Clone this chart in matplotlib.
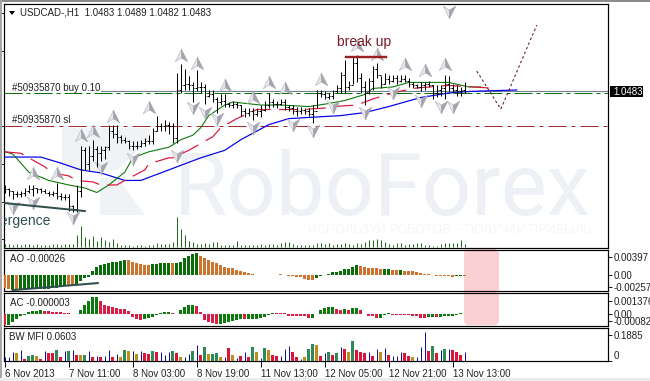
#!/usr/bin/env python3
"""USDCAD H1 terminal screenshot redrawn with matplotlib."""
import matplotlib

matplotlib.use("Agg")
import matplotlib.pyplot as plt
import numpy as np
from matplotlib.patches import FancyBboxPatch, Polygon, Rectangle
from matplotlib.path import Path

W, H = 650, 381
L, R = 4, 608
PX = 0.72  # one pixel in points at dpi 100

plt.rcParams["font.family"] = ["Liberation Sans", "DejaVu Sans"]

# prices are kept as pips above 1.0400
high_pips = [21, 19, 17, 17, 17, 19, 21, 21, 19, 19,
             18, 17, 17, 22, 16, 15, 15, 8, 21, 47,
             46, 47, 51, 47, 47, 47, 61, 61, 61, 54,
             53, 51, 50, 50, 51, 52, 54, 59, 67, 62,
             64, 63, 62, 95, 101, 98, 93, 89, 97, 89,
             88, 84, 84, 79, 81, 81, 76, 77, 76, 74,
             72, 72, 72, 72, 74, 77, 82, 78, 77, 78,
             78, 74, 74, 73, 73, 72, 72, 74, 84, 84,
             83, 82, 84, 87, 96, 104, 90, 106, 107, 95,
             90, 92, 100, 102, 93, 95, 94, 94, 94, 94,
             94, 92, 89, 88, 89, 89, 90, 87, 87, 87,
             94, 93, 88, 87, 86, 89]
low_pips = [16, 14, 12, 13, 13, 14, 16, 14, 16, 16,
            16, 14, 14, 12, 11, 11, 4, 3, 3, 13,
            31, 31, 37, 33, 37, 38, 44, 52, 49, 49,
            49, 45, 44, 45, 46, 47, 48, 48, 57, 57,
            57, 55, 49, 49, 82, 84, 84, 76, 83, 82,
            75, 79, 76, 69, 74, 73, 73, 72, 72, 67,
            66, 67, 64, 67, 66, 70, 72, 73, 72, 74,
            71, 70, 68, 67, 68, 68, 67, 62, 72, 79,
            78, 78, 78, 82, 82, 82, 84, 88, 89, 82,
            74, 81, 84, 92, 85, 88, 88, 89, 88, 89,
            89, 86, 85, 85, 83, 84, 86, 78, 79, 80,
            78, 83, 82, 80, 80, 82]
close_pips = [18, 17, 15, 15, 16, 17, 18, 19, 18, 17,
              16, 15, 16, 14, 13, 13, 7, 5, 17, 44,
              35, 40, 45, 42, 44, 46, 57, 55, 53, 51,
              50, 47, 47, 47, 49, 50, 50, 57, 60, 60,
              61, 60, 52, 84, 87, 88, 87, 85, 86, 86,
              80, 81, 78, 76, 77, 75, 74, 75, 74, 70,
              69, 70, 68, 70, 71, 74, 76, 75, 75, 76,
              73, 72, 70, 70, 71, 70, 68, 70, 82, 81,
              79, 80, 83, 85, 94, 86, 87, 102, 92, 86,
              82, 90, 98, 94, 88, 91, 90, 92, 90, 91,
              90, 88, 87, 86, 87, 88, 87, 82, 84, 85,
              88, 85, 84, 83, 84, 83]
volumes = [3, 3, 2, 3, 2, 3, 3, 2, 3, 2,
           2, 2, 3, 3, 2, 3, 3, 3, 12, 21,
           10, 8, 11, 6, 10, 7, 5, 8, 4, 2,
           2, 2, 1, 2, 2, 1, 2, 2, 4, 3,
           3, 3, 5, 30, 18, 12, 6, 5, 3, 3,
           4, 3, 5, 5, 2, 2, 2, 2, 6, 2,
           2, 2, 2, 2, 3, 2, 3, 3, 2, 4,
           5, 5, 3, 2, 2, 2, 2, 2, 4, 4,
           3, 4, 2, 3, 3, 4, 3, 2, 4, 3,
           5, 7, 7, 8, 7, 5, 3, 2, 4, 4,
           2, 3, 3, 4, 4, 2, 2, 1, 1, 3,
           4, 4, 4, 4, 7, 3]

blue_k = [0, 2, 9, 14, 19, 24, 30, 34, 39, 44, 49, 55, 59, 66, 71, 84, 90, 96, 104, 111, 116, 128]
blue_p = [39.5, 39.5, 39.5, 35.5, 31, 29, 24, 24, 29, 34, 39, 44, 51, 61, 65, 67, 69, 73, 79, 82, 83, 84]
green_k = [0, 2, 6, 11, 16, 20, 23, 26, 30, 32, 36, 41, 44, 47, 49, 51, 55, 57, 64, 69, 76, 81, 85, 90,
           92, 97, 101, 106, 111, 116, 119]
green_p = [43, 41.5, 29.5, 24, 21, 19, 16, 21, 29.5, 39, 43, 46, 51, 54, 59, 67, 74, 76, 74, 74, 73, 75,
           77, 81, 85, 86, 89, 89, 89, 86, 86]
red_k = [0, 4, 6, 10, 12, 16, 18, 22, 24, 28, 30, 35, 36, 41, 42, 46, 48, 52, 54, 58, 63, 70, 74, 80,
         82, 88, 92, 97, 102, 106, 111, 123]
red_p = [43, 42, 39, 33, 29, 27, 24, 23, 21, 21, 24, 31, 35, 39, 39, 44, 47, 53, 59, 65, 71, 71, 71, 72,
         73, 74, 78, 82, 85, 86, 87, 85]

up_k = [19, 22, 7, 13, 27, 36, 44, 48, 55, 66, 70, 62, 79, 88, 93, 100, 105, 110]
up_p = [54, 57, 29, 29, 67, 73, 107, 102, 87, 89, 85, 79, 91, 114, 108, 101, 97, 101]
down_k = [2, 7, 17, 24, 32, 43, 47, 50, 53, 62, 72, 77, 82, 90, 97, 104, 109, 112, 111]
down_p = [6, 9, -1, 32, 38, 40, 72, 69, 65, 59, 61, 57, 73, 69, 82, 77, 73, 73, 136]

forecast_k = [118, 124, 133]
forecast_p = [96.5, 71.3, 127]

ao_vals = [-280, -300, -330, -315, -310, -310, -310, -310, -310, -310,
           -310, -305, -295, -280, -265, -240, -220, -220, -190, -130,
           -75, -35, 88, 185, 220, 235, 255, 280, 295, 310,
           335, 330, 295, 265, 240, 230, 220, 235, 250, 265,
           265, 265, 255, 255, 280, 365, 415, 455, 475, 415,
           365, 335, 295, 255, 220, 185, 160, 145, 110, 95,
           75, 50, 22, 8, 8, 8, 8, 8, 8, 15,
           8, -15, -30, -35, -50, -90, -100, -100, -75, -22,
           -8, 30, 58, 75, 100, 125, 130, 185, 220, 200,
           175, 160, 155, 145, 130, 130, 130, 110, 110, 110,
           100, 95, 80, 65, 45, 22, 15, 8, -15, -22,
           -30, -30, -35, -22, -15, -26]
ao_cols = ("OOGO" + "G" * 12 + "OO" + "G" * 13 + "O" * 6 + "G" * 5 + "O" + "G" * 6 + "O" * 9
           + "O" * 7 + "G" * 4 + "O" * 9 + "G" * 11 + "O" * 6 + "GG" + "OO" + "G" + "O" * 13 + "GG" + "O")

ac_vals = [-115, -122, -88, -52, -28, -18, 18, 25, 28, 35,
           28, 25, 18, 18, 14, 7, 4, -4, -7, 42,
           88, 133, 175, 182, 140, 95, 77, 70, 56, 49,
           46, 28, -35, -56, -63, -60, -50, -30, -12, 4,
           14, 14, 4, 2, 35, 75, 98, 98, 80, 18,
           -70, -88, -98, -105, -110, -95, -85, -75, -63, -52,
           -60, -52, -52, -52, -42, -35, -10, 4, 7, 10,
           4, -21, -21, -21, -21, -25, -49, -42, -7, 42,
           60, 74, 74, 46, 35, 46, 42, 60, 60, 42,
           -7, -21, -28, -46, -42, -10, 4, -10, -14, -14,
           -14, -14, -21, -21, -42, -42, -35, -35, -35, -35,
           -28, -28, -21, -10, 7, -3]
ac_cols = ("R" + "G" * 9 + "R" * 8 + "G" * 6 + "R" * 11 + "G" * 7 + "RR" + "G" * 4 + "R" * 6 + "G" * 4
           + "GGR" + "G" * 7 + "R" * 9 + "G" * 6 + "RR" + "G" + "R" + "GG" + "R" * 5 + "GGG" + "R" * 9
           + "GG" + "R" + "G" * 6 + "R")

mfi_vals = [12, 12, 25, 22, 33, 6, 15, 17, 15, 5,
            30, 22, 22, 33, 12, 30, 30, 33, 18, 18,
            18, 30, 12, 15, 12, 15, 33, 12, 20, 12,
            33, 28, 30, 20, 30, 22, 20, 30, 27, 25,
            18, 25, 30, 22, 12, 10, 20, 30, 48, 18,
            42, 20, 20, 22, 12, 10, 37, 18, 8, 15,
            25, 12, 40, 27, 8, 37, 33, 18, 15, 15,
            35, 45, 27, 12, 5, 10, 36, 50, 48, 15,
            22, 25, 18, 22, 40, 36, 25, 60, 33, 25,
            22, 25, 15, 35, 27, 38, 18, 15, 15, 25,
            22, 15, 10, 12, 40, 85, 28, 45, 22, 33,
            36, 35, 33, 25, 18, 25]
mfi_cols = ("BBBYBRGGYR" "BRRGRBGBRY" "GBRBRBBRBY" "GYBYBRRGRB"
            "BBGRYBBGBR" "GYGGYBRYBR" "BRGYBGYRRB" "BBRRBYGGYR"
            "BGRGBRYGRR" "RBRBYBRBBB" "RRYBBBRGRB" "GBRRRB")

time_ticks = [0, 16, 32, 48, 64, 80, 96, 112]
time_labels = ["6 Nov 2013", "7 Nov 11:00", "8 Nov 03:00", "8 Nov 19:00",
               "11 Nov 13:00", "12 Nov 05:00", "12 Nov 21:00", "13 Nov 13:00"]
price_ticks = [1.0535, 1.0510, 1.0460, 1.0435, 1.0410, 1.0385]

AO_COL = {"G": "#0b6b0b", "O": "#cd7430"}
AC_COL = {"G": "#0b7a0b", "R": "#d81e46"}
MFI_COL = {"B": "#12128c", "G": "#2e8b57", "Y": "#b8901e", "R": "#dc143c"}
TEXT = "#222222"
FS = 7


def price(p):
    return 1.04 + np.asarray(p, dtype=float) / 1e4


def fx(x):
    return x / W


def fy(y):
    return 1 - y / H


def pane(top, bottom, ylim):
    ax = fig.add_axes([fx(L), fy(bottom), fx(R - L), (bottom - top) / H], zorder=2)
    ax.set_xlim(-0.2, (R - L) / 4 - 0.2)
    ax.set_ylim(*ylim)
    ax.yaxis.tick_right()
    ax.set_xticks([])
    ax.tick_params(axis="y", length=3, width=PX, pad=0.8, labelsize=FS, colors=TEXT)
    for s in ax.spines.values():
        s.set_linewidth(1.2 * PX)
        s.set_color("black")
    return ax


def bars(ax, vals, cols, palette, width=0.8):
    xs = np.arange(len(vals))
    ax.bar(xs, vals, width, color=[palette[c] for c in cols], linewidth=0, zorder=3,
           antialiased=False)


fig = plt.figure(figsize=(W / 100, H / 100), dpi=100, facecolor="white")

# window edges and the pink highlight, all behind the panes
for x, y, w, h, c in ((0, 0, W, 1.5, "#8a8a8a"), (0, 0, 1.5, H, "#a8a8a8"),
                      (0, 378, W, 3, "#ececec")):
    fig.patches.append(Rectangle((fx(x), fy(y + h)), w / W, h / H, transform=fig.transFigure,
                                 facecolor=c, edgecolor="none", zorder=5))
fig.patches.append(FancyBboxPatch((464, H - 325), 35, 76, boxstyle="round,pad=0,rounding_size=5",
                                  transform=None, facecolor="#fbd0d3", edgecolor="none", zorder=0))

# ---------------------------------------------------------------- main pane
ax = pane(4, 248, (price(-20.8), price(141)))
ax.set_yticks(price_ticks)
ax.set_yticklabels([f"{t:.4f}" for t in price_ticks])

# watermark
for pts in ([(62, 128), (150, 128), (150, 138), (118, 170), (62, 170)],
            [(100, 178), (118, 178), (145, 215), (100, 215)]):
    ax.add_patch(Polygon([(fx(a), fy(b)) for a, b in pts], transform=fig.transFigure,
                         facecolor="#f0f3f6", edgecolor="none", zorder=0))
ax.text(fx(174), fy(215), "RoboForex", transform=fig.transFigure, family="Roboto",
        fontsize=62.5, color="#edf0f4", va="baseline", ha="left", zorder=0)
ax.text(fx(592), fy(230), "ИСПОЛЬЗУЙ РОБОТОВ – ПОЛУЧАЙ ПРИБЫЛЬ", transform=fig.transFigure,
        fontsize=9.1, color="#f4f6f8", va="center", ha="right", zorder=0)

# tick volumes share the pane on their own scale
vol = ax.twinx()
vol.set_ylim(0, 244)
vol.set_yticks([])
vol.patch.set_visible(False)
for s in vol.spines.values():
    s.set_visible(False)
vol.vlines(np.arange(len(volumes)), 1, np.array(volumes) + 1, color="#1f6b1f", lw=PX, zorder=1)

ax.set_zorder(3)
vol.set_zorder(4)

ax.plot([24, 151], [price(83)] * 2, color="#708090", lw=1.1 * PX, zorder=2)
ax.axhline(price(82.2), color="#0a700a", lw=PX, ls=(0, (18, 4, 4, 4)), zorder=2)
ax.axhline(price(60.2), color="#a52a2a", lw=PX, ls=(0, (18, 5, 4, 5)), zorder=2)

ax.plot(blue_k, price(blue_p), color="#0000e8", lw=1.2 * PX, zorder=3)
ax.plot(green_k, price(green_p), color="#0a7a0a", lw=1.1 * PX, zorder=3)
ax.plot(red_k, price(red_p), color="#dc143c", lw=1.2 * PX, ls=(0, (16, 7)), zorder=3)

# fractal arrows: light and dark half
arrow_l = [(0, 1), (-1, -1), (0, -0.4), (0, 1)]
arrow_r = [(0, 1), (0, -0.4), (1, -1), (0, 1)]
flip = lambda pts: [(a, -b) for a, b in pts]
for ks, ps, l, r in ((up_k, up_p, arrow_l, arrow_r),
                     (down_k, down_p, flip(arrow_l), flip(arrow_r))):
    ax.plot(ks, price(ps), ls="none", marker=Path(l), ms=12.5 * PX, mfc="#e6e6ec", mec="#b2b2ba",
            mew=0.4, zorder=4)
    ax.plot(ks, price(ps), ls="none", marker=Path(r), ms=12.5 * PX, mfc="#a4a4ae", mec="#a4a4ae",
            mew=0.4, zorder=4)

xs = np.arange(len(high_pips))
opens = [close_pips[0]] + close_pips[:-1]
ax.vlines(xs, price(low_pips), price(high_pips), color="black", lw=PX, zorder=5)
ax.hlines(price(close_pips), xs, xs + 0.4, color="black", lw=PX, zorder=5)
ax.hlines(price(opens), xs - 0.4, xs, color="black", lw=PX, zorder=5)

ax.plot(forecast_k, price(forecast_p), color="#5c0a14", lw=PX, ls=(0, (2.5, 2.5)), zorder=5)
ax.plot([85.2, 95.2], [price(105.8)] * 2, color="#9c2020", lw=2.4 * PX, zorder=5)
ax.plot([0, 20], [price(9), price(3.7)], color="#2f4f4f", lw=2 * PX, zorder=5)

ax.text(fx(364), fy(42), "break up", transform=fig.transFigure, fontsize=10, color="#7a1a28",
        ha="center", va="center", zorder=6)
ax.text(fx(50.5), fy(221), "divergence", transform=fig.transFigure, fontsize=10, color="#2f4f4f",
        ha="right", va="center", clip_on=True, zorder=6)
ax.text(fx(12), fy(88), "#50935870 buy 0.10", transform=fig.transFigure, fontsize=FS, color=TEXT,
        va="center", zorder=6)
ax.text(fx(12), fy(120), "#50935870 sl", transform=fig.transFigure, fontsize=FS, color=TEXT,
        va="center", zorder=6)
ax.text(fx(20), fy(12.5), "USDCAD-,H1  1.0483 1.0489 1.0482 1.0483", transform=fig.transFigure,
        fontsize=FS, color=TEXT, va="center", zorder=6)
ax.add_patch(Polygon([(fx(9), fy(11)), (fx(15), fy(11)), (fx(12), fy(15))], transform=fig.transFigure,
                     facecolor="black", edgecolor="none", zorder=6))

# current price box
fig.patches.append(Rectangle((fx(610), fy(97)), 33 / W, 11 / H, transform=fig.transFigure,
                             facecolor="black", edgecolor="none", zorder=6))
fig.text(fx(613), fy(91.7), "1.0483", fontsize=FS, color="white", va="center", zorder=7)

# ---------------------------------------------------------------- AO
ao = pane(250, 291, (-0.0035, 0.0055))
ao.patch.set_visible(False)
bars(ao, np.array(ao_vals) * 1e-5, ao_cols, AO_COL)
ao.plot([2, 23.25], [-0.0033, -0.00176], color="#2f4f4f", lw=2 * PX, zorder=4)
ao.set_yticks([0.00397, 0.0, -0.00257])
ao.set_yticklabels(["0.00397", "0.00", "-0.00257"])
ao.text(fx(10), fy(259.5), "AO -0.00026", transform=fig.transFigure, fontsize=FS, color=TEXT, va="center")

# ---------------------------------------------------------------- AC
ac = pane(293, 326, (-0.0013, 0.0022))
ac.patch.set_visible(False)
bars(ac, np.array(ac_vals) * 1e-5, ac_cols, AC_COL)
ac.set_yticks([0.001376, 0.0, -0.00082])
ac.set_yticklabels(["0.001376", "0.00", "-0.00082"])
ac.text(fx(10), fy(302.5), "AC -0.000003", transform=fig.transFigure, fontsize=FS, color=TEXT, va="center")

# ---------------------------------------------------------------- MFI
mfi = pane(328, 361, (-0.002, 0.2356))
vals = np.array(mfi_vals) * 0.0024
is_blue = np.array([c == "B" for c in mfi_cols])
xs = np.arange(len(vals))
mfi.bar(xs[~is_blue], vals[~is_blue], 0.8, color=[MFI_COL[c] for c in mfi_cols if c != "B"],
        linewidth=0, zorder=3, antialiased=False)
mfi.vlines(xs[is_blue], 0, vals[is_blue], color=MFI_COL["B"], lw=PX, zorder=3)
mfi.set_yticks([0.1885, 0.0])
mfi.set_yticklabels(["0.1885", "0"])
mfi.get_yticklabels()[1].set_va("bottom")
mfi.text(fx(9), fy(337), "BW MFI 0.0603", transform=fig.transFigure, fontsize=FS, color=TEXT, va="center")
mfi.set_xticks(time_ticks)
mfi.set_xticklabels(time_labels, ha="left", fontsize=FS, color=TEXT)
mfi.tick_params(axis="x", length=4, width=PX, pad=1.5, direction="out")

assert len(ao_cols) == len(ao_vals) == 116
assert len(ac_cols) == len(ac_vals) == 116
assert len(mfi_cols) == len(mfi_vals) == 116

fig.savefig("out.png", dpi=100)
